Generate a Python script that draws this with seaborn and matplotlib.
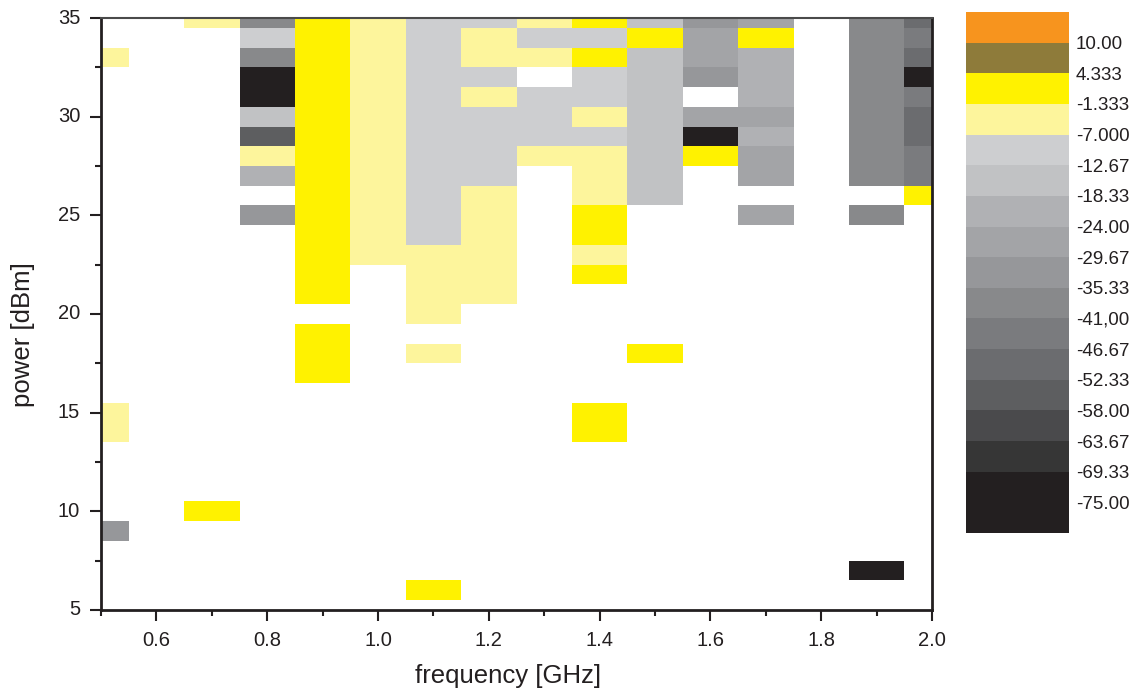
import numpy as np
import pandas as pd
import matplotlib
matplotlib.use("Agg")
import matplotlib.pyplot as plt
from matplotlib.colors import ListedColormap, BoundaryNorm
import seaborn as sns

n = np.nan

# frequency columns [GHz]
frequencies = [0.5, 0.6, 0.7, 0.8, 0.9, 1.0, 1.1, 1.2, 1.3, 1.4, 1.5, 1.6, 1.7, 1.8, 1.9, 2.0]
# power rows [dBm], listed top (35) to bottom (5)
powers = list(range(35, 4, -1))

# values per frequency column, top (35 dBm) to bottom (5 dBm)
#            35 ........................ 31 | 30 ........................ 26 | 25 ..................... 21 | 20 ........... 16 | 15 ............ 11 | 10 ............ 6 | 5
col_050 = [n, n, -4.2, n, n,                 n, n, n, n, n,                   n, n, n, n, n,               n, n, n, n, n,      -4.2, -4.2, n, n, n,  n, -32.5, n, n, n,  n]
col_060 = [n, n, n, n, n,                    n, n, n, n, n,                   n, n, n, n, n,               n, n, n, n, n,      n, n, n, n, n,        n, n, n, n, n,      n]
col_070 = [-4.2, n, n, n, n,                 n, n, n, n, n,                   n, n, n, n, n,               n, n, n, n, n,      n, n, n, n, n,        1.5, n, n, n, n,    n]
col_080 = [-38.2, -9.8, -38.2, -72.2, -72.2, -15.5, -55.2, -4.2, -21.2, n,    -32.5, n, n, n, n,           n, n, n, n, n,      n, n, n, n, n,        n, n, n, n, n,      n]
col_090 = [1.5, 1.5, 1.5, 1.5, 1.5,          1.5, 1.5, 1.5, 1.5, 1.5,         1.5, 1.5, 1.5, 1.5, 1.5,     n, 1.5, 1.5, 1.5, n, n, n, n, n, n,        n, n, n, n, n,      n]
col_100 = [-4.2, -4.2, -4.2, -4.2, -4.2,     -4.2, -4.2, -4.2, -4.2, -4.2,    -4.2, -4.2, -4.2, n, n,      n, n, n, n, n,      n, n, n, n, n,        n, n, n, n, n,      n]
col_110 = [-9.8, -9.8, -9.8, -9.8, -9.8,     -9.8, -9.8, -9.8, -9.8, -9.8,    -9.8, -9.8, -4.2, -4.2, -4.2, -4.2, n, -4.2, n, n, n, n, n, n, n,        n, n, n, n, 1.5,    n]
col_120 = [-9.8, -4.2, -4.2, -9.8, -4.2,     -9.8, -9.8, -9.8, -9.8, -4.2,    -4.2, -4.2, -4.2, -4.2, -4.2, n, n, n, n, n,      n, n, n, n, n,        n, n, n, n, n,      n]
col_130 = [-4.2, -9.8, -4.2, n, -9.8,        -9.8, -9.8, -4.2, n, n,          n, n, n, n, n,               n, n, n, n, n,      n, n, n, n, n,        n, n, n, n, n,      n]
col_140 = [1.5, -9.8, 1.5, -9.8, -9.8,       -4.2, -9.8, -4.2, -4.2, -4.2,    1.5, 1.5, -4.2, 1.5, n,      n, n, n, n, n,      1.5, 1.5, n, n, n,    n, n, n, n, n,      n]
col_150 = [-15.5, 1.5, -15.5, -15.5, -15.5,  -15.5, -15.5, -15.5, -15.5, -15.5, n, n, n, n, n,             n, n, 1.5, n, n,    n, n, n, n, n,        n, n, n, n, n,      n]
col_160 = [-32.5, -26.8, -26.8, -32.5, n,    -26.8, -72.2, 1.5, n, n,         n, n, n, n, n,               n, n, n, n, n,      n, n, n, n, n,        n, n, n, n, n,      n]
col_170 = [-26.8, 1.5, -21.2, -21.2, -21.2,  -26.8, -21.2, -26.8, -26.8, n,   -26.8, n, n, n, n,           n, n, n, n, n,      n, n, n, n, n,        n, n, n, n, n,      n]
col_180 = [n, n, n, n, n,                    n, n, n, n, n,                   n, n, n, n, n,               n, n, n, n, n,      n, n, n, n, n,        n, n, n, n, n,      n]
col_190 = [-38.2, -38.2, -38.2, -38.2, -38.2, -38.2, -38.2, -38.2, -38.2, n,  -38.2, n, n, n, n,           n, n, n, n, n,      n, n, n, n, n,        n, n, n, -72.2, n,  n]
col_200 = [-49.5, -43.8, -49.5, -72.2, -43.8, -49.5, -49.5, -43.8, -43.8, 1.5, n, n, n, n, n,              n, n, n, n, n,      n, n, n, n, n,        n, n, n, n, n,      n]

columns = [col_050, col_060, col_070, col_080, col_090, col_100, col_110, col_120,
           col_130, col_140, col_150, col_160, col_170, col_180, col_190, col_200]

# colour-scale labels (printed at the level boundaries)
cbar_labels = ["10.00", "4.333", "-1.333", "-7.000", "-12.67", "-18.33", "-24.00", "-29.67",
               "-35.33", "-41,00", "-46.67", "-52.33", "-58.00", "-63.67", "-69.33", "-75.00"]
cbar_values = [10.0, 4.333, -1.333, -7.0, -12.67, -18.33, -24.0, -29.67,
               -35.33, -41.0, -46.67, -52.33, -58.0, -63.67, -69.33, -75.0]

x_tick_labels = ["0.6", "0.8", "1.0", "1.2", "1.4", "1.6", "1.8", "2.0"]
y_tick_labels = ["5", "10", "15", "20", "25", "30", "35"]

# ---------------------------------------------------------------------------
for c in columns:
    assert len(c) == len(powers)

sns.set_theme(style="white")
plt.rcParams['font.family'] = ['Liberation Sans', 'DejaVu Sans']
ink = '#231f20'
plt.rcParams.update({'text.color': ink, 'axes.labelcolor': ink,
                     'xtick.color': ink, 'ytick.color': ink})

df = pd.DataFrame({f: c for f, c in zip(frequencies, columns)}, index=powers)
df = df.sort_index()  # power ascending: 5 ... 35

step = 85.0 / 15.0
bounds = 10.0 + step * np.arange(-16, 2)
level_colors = ['#231f20', '#231f20', '#363636', '#4a4a4c', '#5d5e60', '#6b6c6f',
                '#7a7b7e', '#88898b', '#96979a', '#a3a4a7', '#b0b1b4', '#c1c2c4',
                '#cdced0', '#fdf59c', '#fff200', '#8e7b3a', '#f7941e']
cmap = ListedColormap(level_colors)
norm = BoundaryNorm(bounds, cmap.N)

fig = plt.figure(figsize=(11.34, 6.93), dpi=100)
ax = fig.add_axes([0.0891, 0.1198, 0.7328, 0.8542])
cax = fig.add_axes([0.8519, 0.2309, 0.0908, 0.7518])

sns.heatmap(df, ax=ax, cbar_ax=cax, cmap=cmap, norm=norm)

# axis geometry: cell i spans [i, i+1]; centre at i + 0.5
fpos = {f: i + 0.5 for i, f in enumerate(frequencies)}
ppos = {p: i + 0.5 for i, p in enumerate(sorted(powers))}
ax.set_xlim(fpos[frequencies[0]], fpos[frequencies[-1]])
ax.set_ylim(ppos[min(powers)], ppos[max(powers)])

ax.set_xticks([fpos[float(t)] for t in x_tick_labels])
ax.set_xticklabels(x_tick_labels, rotation=0)
ax.set_xticks([fpos[f] for f in frequencies[0::2]], minor=True)
ax.set_yticks([ppos[int(t)] for t in y_tick_labels])
ax.set_yticklabels(y_tick_labels, rotation=0)
ax.set_yticks([ppos[p] + 2.5 for p in range(5, 35, 5)], minor=True)

ax.tick_params(axis='both', which='major', direction='out', length=8, width=1.5,
               labelsize=14.5, pad=7, colors=ink)
ax.tick_params(axis='both', which='minor', direction='out', length=4.5, width=1.5, colors=ink)
ax.tick_params(left=True, bottom=True, which='both')

for side in ['left', 'bottom', 'right']:
    ax.spines[side].set_visible(True)
    ax.spines[side].set_linewidth(2)
    ax.spines[side].set_color(ink)
ax.spines['top'].set_visible(True)
ax.spines['top'].set_linewidth(1.5)
ax.spines['top'].set_color('#4a4a4a')

ax.set_xlabel("frequency [GHz]", fontsize=18.5)
ax.set_ylabel("power [dBm]", fontsize=18.5)
ax.xaxis.set_label_coords(0.49, -0.091)
ax.yaxis.set_label_coords(-0.079, 0.4645)

cbar = ax.collections[0].colorbar
cbar.set_ticks(cbar_values)
cbar.set_ticklabels(cbar_labels)
cbar.ax.minorticks_off()
cbar.ax.tick_params(which='both', length=0, labelsize=13.5, pad=5, colors=ink)
cbar.outline.set_visible(False)

fig.savefig("out.png", dpi=100)
